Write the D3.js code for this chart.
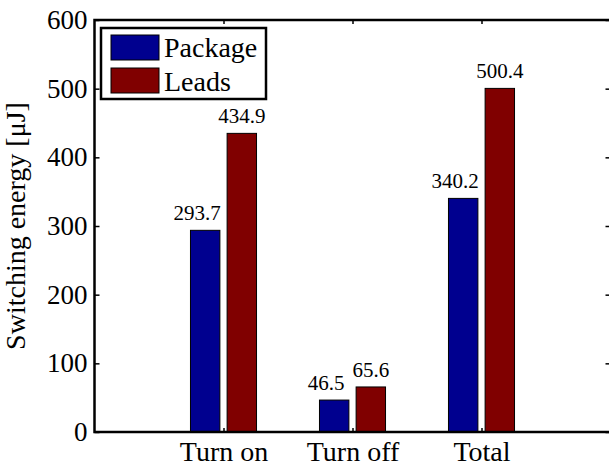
<!DOCTYPE html>
<html>
<head>
<meta charset="utf-8">
<script src="https://cdn.jsdelivr.net/npm/d3@7"></script>
<style>
  html, body { margin: 0; padding: 0; background: #fff; }
  svg { display: block; }
  text { font-family: "Liberation Serif", "Times New Roman", serif; fill: #000; }
</style>
</head>
<body>
<svg id="chart" width="609" height="466"></svg>
<script>
// ---- data ----
const categories = ["Turn on", "Turn off", "Total"];
const seriesNames = ["Package", "Leads"];
const packageValues = [293.7, 46.5, 340.2];
const leadsValues = [434.9, 65.6, 500.4];
const yTicks = [0, 100, 200, 300, 400, 500, 600];
const yLabel = "Switching energy [\u03bcJ]";

const colors = ["#00008F", "#800000"];
const series = [packageValues, leadsValues];

const svg = d3.select("#chart");

const x = d3.scaleLinear().domain([0, 4]).range([94.5, 610.5]);
const y = d3.scaleLinear().domain([0, 600]).range([432, 20]);

const barOffset = 0.142;   // in category units
const barWidth = 0.228;
const labelDx = [-8, 0];  // px shift of value labels per series

// bars
series.forEach((vals, si) => {
  const off = si === 0 ? -barOffset : barOffset;
  svg.append("g").selectAll("rect").data(vals).join("rect")
    .attr("x", (d, i) => x(i + 1 + off - barWidth / 2))
    .attr("width", x(barWidth) - x(0))
    .attr("y", d => y(d))
    .attr("height", d => y(0) - y(d))
    .attr("fill", colors[si])
    .attr("stroke", "#000")
    .attr("stroke-width", 1);
  svg.append("g").selectAll("text").data(vals).join("text")
    .attr("x", (d, i) => x(i + 1 + off) + labelDx[si])
    .attr("y", d => y(d) - 10)
    .attr("text-anchor", "middle")
    .attr("font-size", 21)
    .text(d => d.toFixed(1));
});

// axes
const axisLeft = d3.axisLeft(y).tickValues(yTicks).tickSize(-5).tickPadding(7);
const gl = svg.append("g").attr("transform", `translate(${x(0)},0)`).call(axisLeft);
const axisRight = d3.axisRight(y).tickValues(yTicks).tickSize(-5).tickFormat("");
const gr = svg.append("g").attr("transform", `translate(${x(4)},0)`).call(axisRight);
const axisBottom = d3.axisBottom(x).tickValues([1, 2, 3]).tickSize(-4)
  .tickFormat((d) => categories[d - 1]).tickPadding(9);
const gb = svg.append("g").attr("transform", `translate(0,${y(0)})`).call(axisBottom);
const axisTop = d3.axisTop(x).tickValues([1, 2, 3]).tickSize(-4).tickFormat("");
const gt = svg.append("g").attr("transform", `translate(0,${y(600)})`).call(axisTop);

[gl, gr, gb, gt].forEach(g => {
  g.select(".domain").remove();
  g.selectAll(".tick line").attr("stroke", "#000").attr("stroke-width", 1.5);
  g.selectAll("text").attr("font-family", "Liberation Serif, serif").attr("font-size", 27).attr("fill", "#000");
});
gb.selectAll("text").attr("font-size", 28);

// box
svg.append("rect")
  .attr("x", x(0)).attr("y", y(600))
  .attr("width", x(4) - x(0)).attr("height", y(0) - y(600))
  .attr("fill", "none").attr("stroke", "#000").attr("stroke-width", 2.5);

// y label
svg.append("text")
  .attr("transform", `translate(25,${(y(0) + y(600)) / 2}) rotate(-90)`)
  .attr("text-anchor", "middle")
  .attr("font-size", 28)
  .text(yLabel);

// legend
const lg = svg.append("g");
lg.append("rect").attr("x", 101).attr("y", 28).attr("width", 165).attr("height", 71)
  .attr("fill", "#fff").attr("stroke", "#000").attr("stroke-width", 2.5);
seriesNames.forEach((name, i) => {
  lg.append("rect").attr("x", 111).attr("y", 35 + i * 33).attr("width", 48).attr("height", 25)
    .attr("fill", colors[i]).attr("stroke", "#000").attr("stroke-width", 1);
  lg.append("text").attr("x", 164).attr("y", 57 + i * 34).attr("font-size", 28).text(name);
});
</script>
</body>
</html>
